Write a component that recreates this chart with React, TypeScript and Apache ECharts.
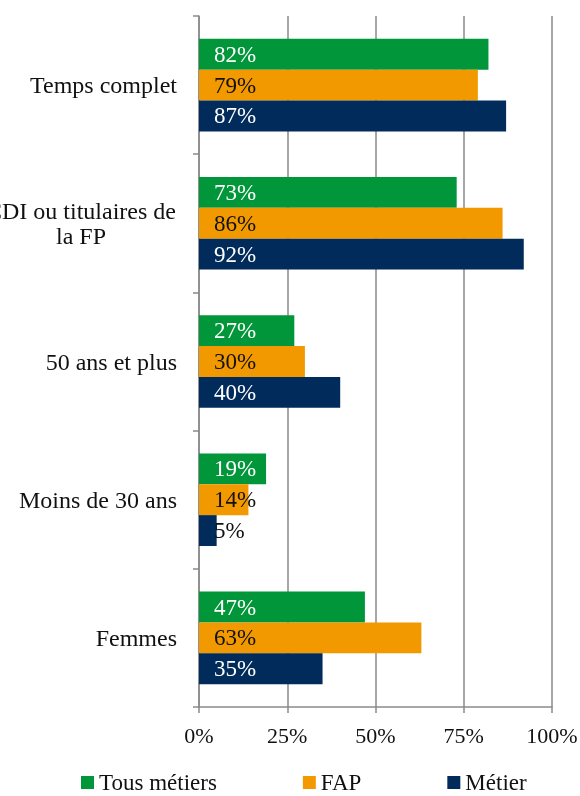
import React, { useEffect, useRef } from "react";
import * as echarts from "echarts";

const categories = [
  "Temps complet",
  "CDI ou titulaires de la FP",
  "50 ans et plus",
  "Moins de 30 ans",
  "Femmes",
];
const tousMetiers = [82, 73, 27, 19, 47];
const fap = [79, 86, 30, 14, 63];
const metier = [87, 92, 40, 5, 35];
const xTicks = [0, 25, 50, 75, 100];

const FONT = "'Liberation Serif', 'Times New Roman', serif";
const GRAY = "#8a8a8a";

export default function App() {
  const ref = useRef<HTMLDivElement>(null);
  useEffect(() => {
    if (!ref.current) return;
    const chart = echarts.init(ref.current, null, { renderer: "svg" });
    const labelFor = (color: string) => ({
      show: true,
      position: "insideLeft",
      offset: [10, 0],
      color,
      fontFamily: FONT,
      fontSize: 23,
      formatter: (p: any) => `${p.value}%`,
    });
    const mkData = (arr: number[]) =>
      arr.map((v) => (v < 10 ? { value: v, label: { color: "#111" } } : v));
    chart.setOption({
      animation: false,
      textStyle: { fontFamily: FONT },
      grid: {
        left: 199,
        right: 28,
        top: 16,
        bottom: 89,
        containLabel: false,
        outerBoundsMode: "none",
      },
      legend: {
        data: ["Tous métiers", "FAP", "Métier"],
        left: 81,
        top: 771,
        padding: 0,
        itemWidth: 13,
        itemHeight: 13,
        itemGap: 86,
        icon: "rect",
        textStyle: { fontFamily: FONT, fontSize: 23, color: "#111" },
      },
      xAxis: {
        type: "value",
        min: xTicks[0],
        max: xTicks[xTicks.length - 1],
        interval: 25,
        axisLine: { show: true, lineStyle: { color: GRAY, width: 1.5 } },
        axisTick: { show: true, length: 6, lineStyle: { color: GRAY, width: 1.5 } },
        splitLine: { show: true, lineStyle: { color: GRAY, width: 1.5 } },
        axisLabel: {
          formatter: "{value}%",
          fontFamily: FONT,
          fontSize: 22,
          color: "#111",
          margin: 17,
        },
      },
      yAxis: {
        type: "category",
        inverse: true,
        data: categories,
        axisLine: { show: true, lineStyle: { color: GRAY, width: 1.5 } },
        axisTick: { show: true, length: 6, lineStyle: { color: GRAY, width: 1.5 } },
        axisLabel: {
          fontFamily: FONT,
          fontSize: 24,
          color: "#111",
          margin: 22,
          formatter: (v: string) =>
            v === "CDI ou titulaires de la FP"
              ? "{c|CDI ou titulaires de}\n{c|la FP}"
              : v,
          rich: {
            c: {
              width: 192,
              align: "center",
              fontFamily: FONT,
              fontSize: 24,
              color: "#111",
              lineHeight: 25,
            },
          },
        },
      },
      series: [
        {
          name: "Tous métiers",
          type: "bar",
          data: mkData(tousMetiers),
          itemStyle: { color: "#009639" },
          barGap: "0%",
          barCategoryGap: "33%",
          label: labelFor("#ffffff"),
        },
        {
          name: "FAP",
          type: "bar",
          data: mkData(fap),
          itemStyle: { color: "#f29900" },
          barGap: "0%",
          barCategoryGap: "33%",
          label: labelFor("#111111"),
        },
        {
          name: "Métier",
          type: "bar",
          data: mkData(metier),
          itemStyle: { color: "#002b5a" },
          barGap: "0%",
          barCategoryGap: "33%",
          label: labelFor("#ffffff"),
        },
      ],
    });
    return () => chart.dispose();
  }, []);
  return (
    <div
      ref={ref}
      style={{ position: "fixed", left: 0, top: 0, width: 580, height: 796 }}
    />
  );
}
